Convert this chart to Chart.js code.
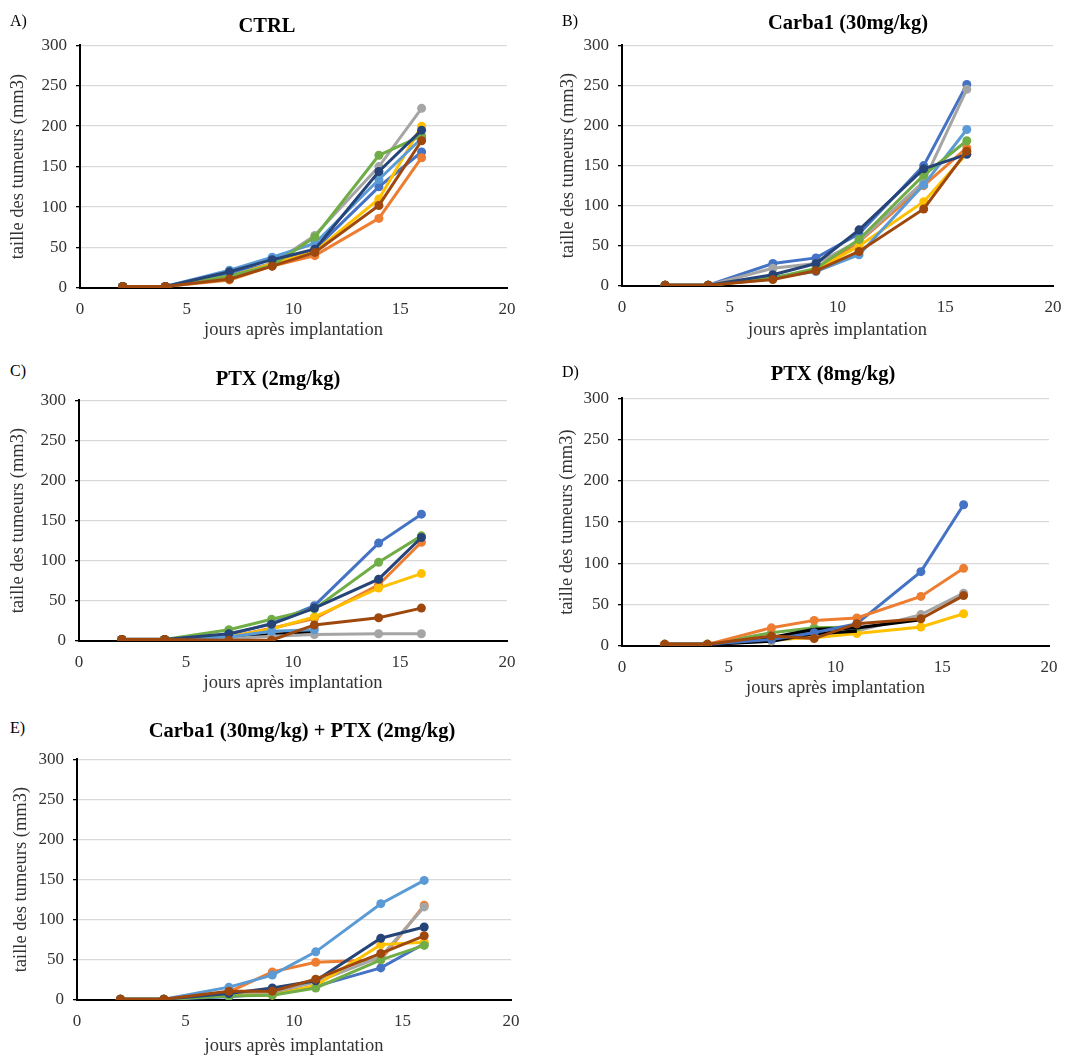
<!DOCTYPE html>
<html>
<head>
<meta charset="utf-8">
<title>Croissance tumorale</title>
<script src="https://cdn.jsdelivr.net/npm/chart.js"></script>
<style>
  html, body { margin: 0; padding: 0; background: #fff; overflow: hidden; }
  body { width: 1074px; height: 1057px; position: relative; font-family: "Liberation Serif", "Times New Roman", serif; }
  .box { position: absolute; }
  .lbl { position: absolute; font-size: 16px; color: #000; transform: translate(0, -50%); white-space: nowrap; }
  .ttl { position: absolute; font-size: 20.5px; font-weight: bold; color: #000; transform: translate(-50%, -50%); white-space: nowrap; }
</style>
</head>
<body>
<script>
// jours de mesure
const days = [2, 4, 7, 9, 11, 14, 16];

// couleurs des souris (palette Excel) + noir
const colors = {
  blue: '#4472C4', orange: '#ED7D31', gray: '#A5A5A5', yellow: '#FFC000',
  lightBlue: '#5B9BD5', green: '#70AD47', darkBlue: '#264478', brown: '#9E480E', black: '#000000'
};

// A) CTRL
const ctrlBlue      = [2, 2, 18, 30, 48, 125, 168];
const ctrlOrange    = [2, 2, 10, 27, 40, 86, 161];
const ctrlGray      = [2, 2, 15, 30, 65, 150, 222];
const ctrlYellow    = [2, 2, 14, 30, 45, 110, 200];
const ctrlLightBlue = [2, 2, 22, 38, 55, 134, 185];
const ctrlGreen     = [2, 2, 15, 28, 63, 164, 188];
const ctrlDarkBlue  = [2, 2, 20, 35, 48, 144, 195];
const ctrlBrown     = [2, 2, 11, 27, 44, 102, 182];

// B) Carba1 (30mg/kg)
const carbaBlue      = [1, 1, 28, 35, 65, 150, 251];
const carbaOrange    = [1, 1, 9, 20, 55, 125, 172];
const carbaGray      = [1, 1, 22, 28, 56, 130, 245];
const carbaYellow    = [1, 1, 9, 20, 50, 105, 165];
const carbaLightBlue = [1, 1, 11, 18, 39, 126, 195];
const carbaGreen     = [1, 1, 10, 22, 58, 138, 181];
const carbaDarkBlue  = [1, 1, 14, 28, 70, 146, 164];
const carbaBrown     = [1, 1, 8, 19, 43, 96, 168];

// C) PTX (2mg/kg)
const ptx2Black     = [2, 2, 4, 8, 12, null, null];
const ptx2Blue      = [2, 2, 8, 22, 44, 122, 158];
const ptx2Orange    = [2, 2, 5, 16, 28, 70, 123];
const ptx2Gray      = [2, 2, 3, 6, 8, 9, 9];
const ptx2Yellow    = [2, 2, 5, 15, 30, 66, 84];
const ptx2LightBlue = [2, 2, 5, 12, 14, null, null];
const ptx2Green     = [2, 2, 14, 27, 40, 98, 131];
const ptx2DarkBlue  = [2, 2, 9, 21, 41, 77, 129];
const ptx2Brown     = [2, 2, 1, 1, 20, 29, 41];

// D) PTX (8mg/kg)
const ptx8Black  = [2, 2, 10, 20, 22, 32, null];
const ptx8Black2 = [2, 2, 6, 15, 18, null, null];
const ptx8Blue   = [2, 2, 8, 16, 27, 90, 171];
const ptx8Orange = [2, 2, 22, 31, 34, 60, 94];
const ptx8Gray   = [2, 2, 6, 12, 18, 38, 64];
const ptx8Yellow = [2, 2, 8, 10, 15, 23, 39];
const ptx8Green  = [2, 2, 16, 22, 23, null, null];
const ptx8Brown  = [2, 2, 12, 9, 27, 33, 61];

// E) Carba1 (30mg/kg) + PTX (2mg/kg)
const comboBlue      = [1, 1, 4, 8, 17, 40, 70];
const comboOrange    = [1, 1, 10, 35, 47, 50, 118];
const comboGray      = [1, 1, 6, 10, 22, 54, 116];
const comboYellow    = [1, 1, 6, 6, 18, 69, 72];
const comboLightBlue = [1, 1, 16, 31, 60, 120, 149];
const comboGreen     = [1, 1, 5, 6, 15, 50, 68];
const comboDarkBlue  = [1, 1, 8, 15, 24, 77, 91];
const comboBrown     = [1, 1, 11, 11, 26, 58, 80];

const xTitle = 'jours après implantation';
const yTitle = 'taille des tumeurs (mm3)';

// series listed bottom -> top (drawing order)
const panels = [
  { letter: 'A)', title: 'CTRL', plot: [80, 38, 507, 288], yTitleX: 18, xTitleY: 330,
    titlePos: [267, 25], letterPos: [10, 21],
    series: [['blue', ctrlBlue], ['orange', ctrlOrange], ['gray', ctrlGray], ['yellow', ctrlYellow],
             ['lightBlue', ctrlLightBlue], ['green', ctrlGreen], ['darkBlue', ctrlDarkBlue], ['brown', ctrlBrown]] },
  { letter: 'B)', title: 'Carba1 (30mg/kg)', plot: [622, 38, 1053, 286], yTitleX: 568, xTitleY: 330,
    titlePos: [848, 22], letterPos: [562, 21],
    series: [['blue', carbaBlue], ['orange', carbaOrange], ['gray', carbaGray], ['yellow', carbaYellow],
             ['lightBlue', carbaLightBlue], ['green', carbaGreen], ['darkBlue', carbaDarkBlue], ['brown', carbaBrown]] },
  { letter: 'C)', title: 'PTX (2mg/kg)', plot: [79, 393, 507, 641], yTitleX: 18, xTitleY: 683,
    titlePos: [278, 378], letterPos: [10, 371],
    series: [['black', ptx2Black], ['blue', ptx2Blue], ['orange', ptx2Orange], ['gray', ptx2Gray], ['yellow', ptx2Yellow],
             ['lightBlue', ptx2LightBlue], ['green', ptx2Green], ['darkBlue', ptx2DarkBlue], ['brown', ptx2Brown]] },
  { letter: 'D)', title: 'PTX (8mg/kg)', plot: [622, 391, 1049, 646], yTitleX: 567, xTitleY: 688,
    titlePos: [833, 373], letterPos: [562, 372],
    series: [['gray', ptx8Gray], ['yellow', ptx8Yellow], ['green', ptx8Green], ['black', ptx8Black2], ['black', ptx8Black],
             ['blue', ptx8Blue], ['orange', ptx8Orange], ['brown', ptx8Brown]] },
  { letter: 'E)', title: 'Carba1 (30mg/kg) + PTX (2mg/kg)', plot: [77, 752, 511, 1000], yTitleX: 21, xTitleY: 1046,
    titlePos: [302, 730], letterPos: [10, 728],
    series: [['blue', comboBlue], ['orange', comboOrange], ['gray', comboGray], ['yellow', comboYellow],
             ['lightBlue', comboLightBlue], ['green', comboGreen], ['darkBlue', comboDarkBlue], ['brown', comboBrown]] }
];

Chart.defaults.font.family = "'Liberation Serif', 'Times New Roman', serif";
Chart.defaults.color = '#333';

const Y_W = 80, PAD_T = 12, PAD_R = 15, AX_FONT = 18.5, TICK_FONT = 17;

function addText(cls, txt, x, y) {
  const d = document.createElement('div');
  d.className = cls;
  d.textContent = txt;
  d.style.left = x + 'px';
  d.style.top = y + 'px';
  document.body.appendChild(d);
}

panels.forEach(function(p) {
  const L = p.plot[0] - Y_W, T = p.plot[1] - PAD_T;
  const W = p.plot[2] + PAD_R - L;
  const bottom = Math.round(p.xTitleY + AX_FONT * 0.6);
  const H = bottom - T;
  const xh = bottom - p.plot[3];

  const box = document.createElement('div');
  box.className = 'box';
  box.style.left = L + 'px';
  box.style.top = T + 'px';
  const cv = document.createElement('canvas');
  cv.width = W; cv.height = H;
  box.appendChild(cv);
  document.body.appendChild(box);

  addText('lbl', p.letter, p.letterPos[0], p.letterPos[1]);
  addText('ttl', p.title, p.titlePos[0], p.titlePos[1]);

  const n = p.series.length;
  const datasets = p.series.map(function(s, i) {
    const c = colors[s[0]];
    const isBlack = s[0] === 'black';
    return {
      label: s[0],
      data: days.map(function(d, k) { return { x: d, y: s[1][k] }; }),
      borderColor: c,
      backgroundColor: c,
      borderWidth: isBlack ? 3.4 : 3,
      pointRadius: isBlack ? 0 : 4.5,
      pointBorderWidth: 0,
      tension: 0,
      order: n - i
    };
  });

  new Chart(cv.getContext('2d'), {
    type: 'line',
    data: { datasets: datasets },
    options: {
      responsive: false,
      animation: false,
      layout: { padding: { top: PAD_T, right: PAD_R, left: 0, bottom: 0 } },
      plugins: { legend: { display: false }, tooltip: { enabled: false } },
      scales: {
        x: {
          type: 'linear', min: 0, max: 20,
          ticks: { stepSize: 5, padding: 3, font: { size: TICK_FONT }, maxRotation: 0 },
          grid: { display: false },
          border: { display: true, color: '#000', width: 2 },
          title: { display: true, text: xTitle, font: { size: AX_FONT }, padding: { top: 0, bottom: 0 } },
          afterFit: function(s) { s.height = xh; }
        },
        y: {
          min: 0, max: 300,
          ticks: { stepSize: 50, padding: 9, font: { size: TICK_FONT } },
          grid: { color: '#D9D9D9', lineWidth: 1.3, tickLength: 4, tickColor: '#000', tickWidth: 1.3 },
          border: { display: true, color: '#000', width: 2 },
          title: { display: true, text: yTitle, font: { size: AX_FONT }, padding: { top: p.yTitleX - L - AX_FONT * 0.6, bottom: 0 } },
          afterFit: function(s) { s.width = Y_W; }
        }
      }
    }
  });
});
</script>
</body>
</html>
